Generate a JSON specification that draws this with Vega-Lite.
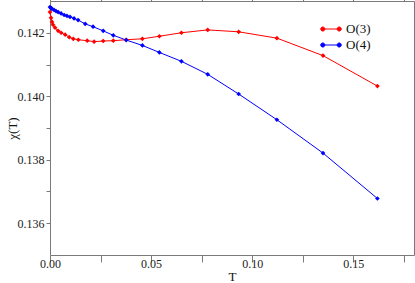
{
  "$schema": "https://vega.github.io/schema/vega-lite/v6.json",
  "width": 364,
  "height": 254,
  "padding": {"left": 50, "top": 1, "right": 1, "bottom": 28},
  "autosize": {"type": "none"},
  "background": "white",
  "config": {
    "font": "Liberation Serif",
    "view": {"stroke": null},
    "axis": {
      "grid": false,
      "domainColor": "#7a7a7a",
      "tickColor": "#7a7a7a",
      "labelColor": "#222222",
      "labelFont": "Liberation Serif",
      "labelFontSize": 12,
      "titleFont": "Liberation Serif",
      "titleFontSize": 13,
      "titleFontWeight": "normal",
      "titleColor": "#111111",
      "tickSize": 7,
      "labelFlush": false,
      "labelOverlap": false
    },
    "legend": {
      "orient": "none",
      "legendX": 272,
      "legendY": 19,
      "title": null,
      "padding": 0,
      "labelFont": "Liberation Serif",
      "labelFontSize": 13,
      "labelColor": "#111111",
      "symbolType": "M-1,0L1,0M-0.75,0A0.25,0.25,0,1,1,-1.25,0A0.25,0.25,0,1,1,-0.75,0M1.25,0A0.25,0.25,0,1,1,0.75,0A0.25,0.25,0,1,1,1.25,0",
      "symbolSize": 270,
      "symbolStrokeWidth": 1,
      "labelOffset": 6,
      "rowPadding": -1
    }
  },
  "data": {
    "values": [
      {"s": "O(3)", "T": 0.0, "chi": 0.14265},
      {"s": "O(3)", "T": 0.0005, "chi": 0.14247},
      {"s": "O(3)", "T": 0.001, "chi": 0.14234},
      {"s": "O(3)", "T": 0.0015, "chi": 0.14225},
      {"s": "O(3)", "T": 0.0025, "chi": 0.14216},
      {"s": "O(3)", "T": 0.004, "chi": 0.14206},
      {"s": "O(3)", "T": 0.0055, "chi": 0.142},
      {"s": "O(3)", "T": 0.0075, "chi": 0.14194},
      {"s": "O(3)", "T": 0.0095, "chi": 0.14186},
      {"s": "O(3)", "T": 0.0115, "chi": 0.14181},
      {"s": "O(3)", "T": 0.014, "chi": 0.14178},
      {"s": "O(3)", "T": 0.0184, "chi": 0.14175},
      {"s": "O(3)", "T": 0.0218, "chi": 0.14172},
      {"s": "O(3)", "T": 0.0263, "chi": 0.14174},
      {"s": "O(3)", "T": 0.0313, "chi": 0.14175},
      {"s": "O(3)", "T": 0.0377, "chi": 0.14178},
      {"s": "O(3)", "T": 0.0457, "chi": 0.14181},
      {"s": "O(3)", "T": 0.0541, "chi": 0.14189},
      {"s": "O(3)", "T": 0.065, "chi": 0.142},
      {"s": "O(3)", "T": 0.078, "chi": 0.14209},
      {"s": "O(3)", "T": 0.0933, "chi": 0.14203},
      {"s": "O(3)", "T": 0.1122, "chi": 0.14183},
      {"s": "O(3)", "T": 0.135, "chi": 0.14128},
      {"s": "O(3)", "T": 0.1619, "chi": 0.14032},
      {"s": "O(4)", "T": 0.0, "chi": 0.14281},
      {"s": "O(4)", "T": 0.0005, "chi": 0.14278},
      {"s": "O(4)", "T": 0.001, "chi": 0.14275},
      {"s": "O(4)", "T": 0.002, "chi": 0.14272},
      {"s": "O(4)", "T": 0.003, "chi": 0.14268},
      {"s": "O(4)", "T": 0.004, "chi": 0.14265},
      {"s": "O(4)", "T": 0.0055, "chi": 0.14261},
      {"s": "O(4)", "T": 0.007, "chi": 0.14256},
      {"s": "O(4)", "T": 0.0084, "chi": 0.14253},
      {"s": "O(4)", "T": 0.0099, "chi": 0.1425},
      {"s": "O(4)", "T": 0.0119, "chi": 0.14245},
      {"s": "O(4)", "T": 0.0139, "chi": 0.1424},
      {"s": "O(4)", "T": 0.0174, "chi": 0.14228},
      {"s": "O(4)", "T": 0.0213, "chi": 0.14219},
      {"s": "O(4)", "T": 0.0263, "chi": 0.14206},
      {"s": "O(4)", "T": 0.0313, "chi": 0.14192},
      {"s": "O(4)", "T": 0.0377, "chi": 0.14177},
      {"s": "O(4)", "T": 0.0457, "chi": 0.1416},
      {"s": "O(4)", "T": 0.0541, "chi": 0.14138},
      {"s": "O(4)", "T": 0.065, "chi": 0.1411},
      {"s": "O(4)", "T": 0.078, "chi": 0.14069},
      {"s": "O(4)", "T": 0.0933, "chi": 0.14007},
      {"s": "O(4)", "T": 0.1122, "chi": 0.13926},
      {"s": "O(4)", "T": 0.135, "chi": 0.13821},
      {"s": "O(4)", "T": 0.1619, "chi": 0.13678}
    ]
  },
  "layer": [
    {
      "mark": {"type": "line", "strokeWidth": 1},
      "encoding": {
        "x": {
          "field": "T", "type": "quantitative",
          "scale": {"domain": [0, 0.18], "nice": false, "zero": false},
          "axis": {
            "orient": "bottom", "title": "T",
            "values": [0, 0.025, 0.05, 0.075, 0.1, 0.125, 0.15, 0.175],
            "labelExpr": "abs(datum.value*20-round(datum.value*20))>0.25 ? '' : format(datum.value, '.2f')",
            "labelPadding": -4, "titlePadding": 1,
            "encode": {"ticks": {"update": {"y2": {"signal": "abs(datum.value*20-round(datum.value*20))>0.25 ? -4 : -7"}}}}
          }
        },
        "y": {
          "field": "chi", "type": "quantitative",
          "scale": {"domain": [0.135, 0.143], "nice": false, "zero": false},
          "axis": {
            "orient": "left", "title": "χ(T)",
            "values": [0.136, 0.137, 0.138, 0.139, 0.14, 0.141, 0.142],
            "labelExpr": "round(datum.value*1000)%2==1 ? '' : format(datum.value, '.3f')",
            "tickSize": 4,
            "labelPadding": 2,
            "titleX": -38, "titleY": 127, "titleBaseline": "middle", "titleAlign": "center", "titleAngle": -90,
            "encode": {"ticks": {"update": {"x2": {"signal": "round(datum.value*1000)%2==1 ? 3 : -4"}}}}
          }
        },
        "color": {
          "field": "s", "type": "nominal",
          "scale": {"domain": ["O(3)", "O(4)"], "range": ["#ff0000", "#0000ff"]},
          "legend": {
            "encode": {"symbols": {"update": {"fill": {"scale": "color", "field": "value"}, "stroke": {"scale": "color", "field": "value"}, "strokeWidth": {"value": 1}}}}
          }
        }
      }
    },
    {
      "mark": {"type": "point", "shape": "diamond", "filled": true, "size": 22, "opacity": 1},
      "encoding": {
        "x": {
          "field": "T", "type": "quantitative",
          "axis": {
            "orient": "top", "title": null, "labels": false,
            "values": [0, 0.025, 0.05, 0.075, 0.1, 0.125, 0.15, 0.175],
            "encode": {"ticks": {"update": {"y2": {"signal": "abs(datum.value*20-round(datum.value*20))>0.25 ? 4 : 8"}}}}
          }
        },
        "y": {
          "field": "chi", "type": "quantitative",
          "axis": {
            "orient": "right", "title": null, "labels": false,
            "values": [0.136, 0.137, 0.138, 0.139, 0.14, 0.141, 0.142],
            "encode": {"ticks": {"update": {"x2": {"signal": "round(datum.value*1000)%2==1 ? -4 : -7"}}}}
          }
        },
        "color": {"field": "s", "type": "nominal"}
      }
    }
  ]
}
